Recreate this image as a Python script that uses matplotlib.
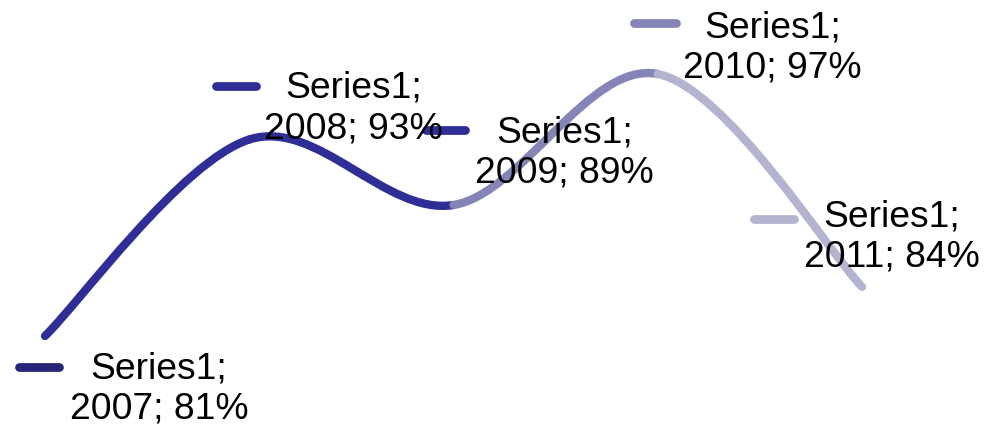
import numpy as np
import matplotlib
matplotlib.use('Agg')
from matplotlib import pyplot as plt
from matplotlib.path import Path
from matplotlib.patches import PathPatch
from matplotlib.transforms import IdentityTransform

# ---------------------------------------------------------------
# dados
# ---------------------------------------------------------------
serie   = 'Series1'
anos    = ['2007', '2008', '2009', '2010', '2011']
valores = [81, 93, 89, 97, 84]
cores   = ['#262678', '#2e2e96', '#2e2e96', '#8484b6', '#b4b4d0']

# posicao dos rotulos (pixels, relativo ao ponto; y para baixo)
# chave: x inicial, x final, y  //  texto: centro x, centro y
chave_pos = [(-30, 18, 31), (-37, 11, -54), (-32, 15, -75), (-28, 22, -51), (-112, -64, -68)]
texto_pos = [(114, 52), (104, -32), (111, -53), (115, -27), (30, -51)]

plt.rcParams['font.family'] = ['Liberation Sans', 'DejaVu Sans']

fig = plt.figure(figsize=(9.86, 4.31), dpi=100)
ax = fig.add_axes([0, 0, 1, 1])
ax.set_axis_off()
ax.set_xlim(-0.2203, 4.607)
ax.set_ylim(75.26, 101.58)

x = np.arange(len(valores), dtype=float)
y = np.array(valores, dtype=float)
P = np.column_stack([x, y])
n = len(P)

# curva suavizada (bezier tipo Excel), cada trecho com a cor do ponto final
for i in range(n - 1):
    p_ant = P[i - 1] if i > 0 else P[i]
    p_seg = P[i + 2] if i + 2 < n else P[i + 1]
    c1 = P[i] + (P[i + 1] - p_ant) / 6.0
    c2 = P[i + 1] - (p_seg - P[i]) / 6.0
    path = Path([P[i], c1, c2, P[i + 1]],
                [Path.MOVETO, Path.CURVE4, Path.CURVE4, Path.CURVE4])
    ax.add_patch(PathPatch(path, facecolor='none', edgecolor=cores[i + 1],
                           lw=6, capstyle='round', joinstyle='round'))

# rotulos com chave de legenda
ident = IdentityTransform()
for i in range(n):
    px, py = ax.transData.transform((x[i], y[i]))
    k0, k1, ky = chave_pos[i]
    ax.plot([px + k0 + 4, px + k1 - 4], [py - ky, py - ky], color=cores[i],
            lw=6.3, solid_capstyle='round', transform=ident)
    tx, ty = texto_pos[i]
    fig.text(px + tx, py - ty, serie + ';\n' + anos[i] + '; ' + str(valores[i]) + '%',
             ha='center', va='center', fontsize=26.8, linespacing=1.2,
             color='black', transform=ident, zorder=5)

fig.savefig('out.png', dpi=100)
